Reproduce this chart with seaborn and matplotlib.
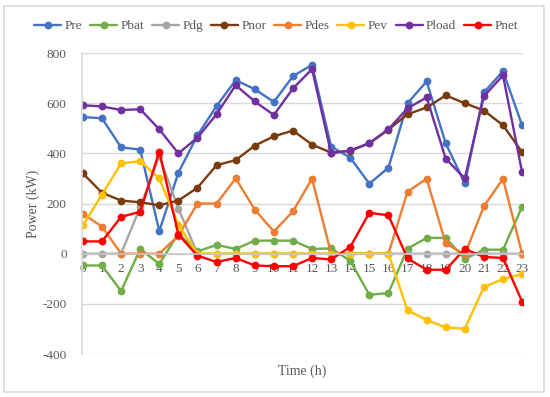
import numpy as np
import pandas as pd
import seaborn as sns
import matplotlib.pyplot as plt
from matplotlib.patches import FancyBboxPatch

# -------------------------------
# Data
# -------------------------------
hours = list(range(24))

pre = [545, 540, 424, 415, 90, 323, 472, 589, 692, 656, 605, 708,
       753, 427, 383, 279, 343, 600, 687, 440, 280, 643, 728, 512]
pbat = [-47, -47, -149, 19, -41, 80, 9, 35, 19, 52, 52, 52,
        19, 21, -28, -164, -157, 20, 63, 63, -21, 16, 16, 187]
pdg = [0, 0, 0, 185, 390, 180, 0, 0, 0, 0, 0, 0,
       0, 0, 0, 0, 0, 0, 0, 0, 0, 0, 0, 0]
pnor = [320, 243, 212, 205, 193, 212, 263, 353, 373, 431, 468, 491,
        435, 403, 410, 440, 495, 556, 583, 631, 600, 571, 512, 405]
pdes = [159, 108, 0, 0, 0, 72, 200, 200, 300, 176, 88, 169,
        299, 0, 0, 0, 0, 247, 299, 41, -3, 189, 299, 0]
pev = [113, 236, 360, 369, 300, 115, 0, 0, 0, 0, 0, 0,
       0, 0, 0, 0, 0, -226, -264, -294, -299, -133, -101, -81]
pload = [592, 587, 573, 576, 496, 400, 463, 556, 672, 607, 553, 659,
         736, 400, 412, 441, 496, 580, 623, 379, 300, 628, 711, 325]
pnet = [49, 49, 147, 167, 407, 76, -8, -33, -17, -47, -50, -50,
        -17, -23, 27, 163, 153, -19, -64, -64, 19, -13, -17, -191]

series_names = ["Pre", "Pbat", "Pdg", "Pnor", "Pdes", "Pev", "Pload", "Pnet"]
series_vals = [pre, pbat, pdg, pnor, pdes, pev, pload, pnet]
colors = ["#4472C4", "#70AD47", "#A5A5A5", "#7B3A0E",
          "#ED7D31", "#FFC000", "#7030A0", "#FF0000"]

df = pd.DataFrame({
    "Time": np.tile(hours, len(series_names)),
    "Power": np.concatenate(series_vals),
    "Series": np.repeat(series_names, len(hours)),
})

# -------------------------------
# Plot
# -------------------------------
sns.set_style("white")
plt.rcParams["font.family"] = ["Liberation Serif", "DejaVu Serif"]
plt.rcParams["axes.unicode_minus"] = False

fig = plt.figure(figsize=(5.5, 3.97), dpi=100)
ax = fig.add_axes([0.149, 0.1083, 0.802, 0.758])

sns.lineplot(
    data=df, x="Time", y="Power", hue="Series",
    hue_order=series_names, palette=colors,
    marker="o", markersize=5.6, markeredgewidth=0,
    linewidth=1.7, dashes=False, ax=ax, legend=True,
)

ax.set_xlim(-0.05, 23.05)
ax.set_ylim(-400, 800)
ax.set_yticks(np.arange(-400, 801, 200))
ax.set_xticks(hours)
ax.set_xticklabels([str(h) for h in hours])

# Gridlines & spines (Excel look)
ax.yaxis.grid(True, color="#D9D9D9", linewidth=1)
ax.xaxis.grid(False)
ax.set_axisbelow(True)
for side in ["top", "right"]:
    ax.spines[side].set_visible(False)
ax.spines["left"].set_color("#D9D9D9")
ax.spines["left"].set_linewidth(1.2)
ax.spines["bottom"].set_position(("data", 0))
ax.spines["bottom"].set_color("#C8C8C8")
ax.spines["bottom"].set_linewidth(1.2)
ax.tick_params(axis="both", length=0, labelsize=9.5, colors="#595959")
ax.tick_params(axis="x", pad=7)
ax.tick_params(axis="y", pad=11)

ax.set_xlabel("Time (h)", fontsize=10, color="#595959")
ax.set_ylabel("Power (kW)", fontsize=10, color="#595959")
ax.xaxis.label.set_va("center")
ax.yaxis.label.set_va("center")
ax.xaxis.set_label_coords(0.5, -0.057)
ax.yaxis.set_label_coords(-0.111, 0.5)

handles, labels = ax.get_legend_handles_labels()
ax.legend(
    handles, labels, loc="center", bbox_to_anchor=(0.502, 0.9345),
    bbox_transform=fig.transFigure, ncol=8, frameon=False,
    fontsize=9.5, handlelength=2.05, handletextpad=0.25, columnspacing=0.6,
    labelcolor="#595959", borderpad=0,
)

# Outer chart border
fig.patches.append(FancyBboxPatch(
    (0.0073, 0.0126), 0.982, 0.972, boxstyle="square,pad=0",
    transform=fig.transFigure, fill=False, edgecolor="#D9D9D9", linewidth=1.2,
))

plt.savefig("out.png", dpi=100)
